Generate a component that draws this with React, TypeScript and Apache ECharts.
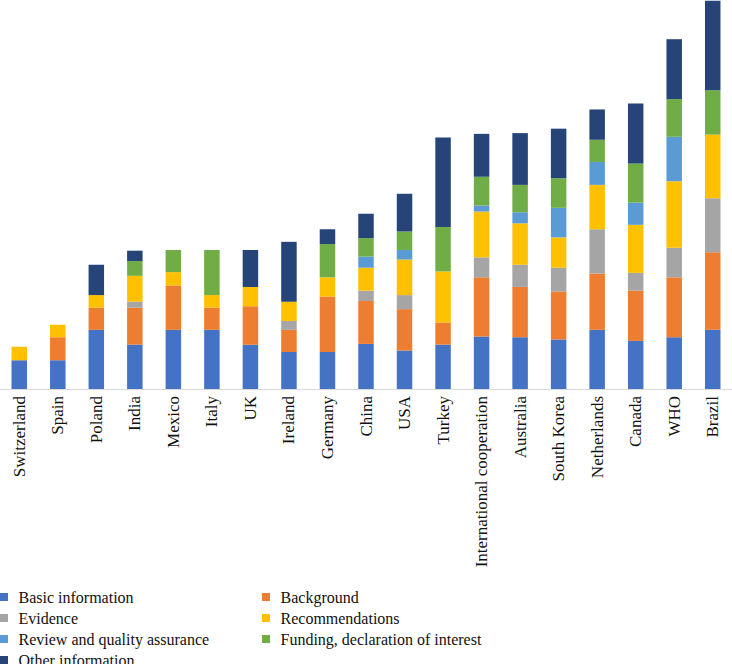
import React, { useEffect, useRef } from "react";
import * as echarts from "echarts";

const categories = [
  "Switzerland", "Spain", "Poland", "India", "Mexico", "Italy", "UK", "Ireland",
  "Germany", "China", "USA", "Turkey", "International cooperation", "Australia",
  "South Korea", "Netherlands", "Canada", "WHO", "Brazil",
];

const basicInformation = [3.9, 3.9, 8.0, 6.0, 8.0, 8.0, 6.0, 5.0, 5.0, 6.1, 5.2, 6.0, 7.1, 7.0, 6.7, 8.0, 6.5, 7.0, 8.0];
const background = [0, 3.1, 3.0, 5.0, 6.0, 3.0, 5.2, 3.0, 7.5, 5.8, 5.6, 3.0, 8.0, 6.8, 6.5, 7.6, 6.8, 8.1, 10.5];
const evidence = [0, 0, 0, 0.8, 0, 0, 0, 1.2, 0, 1.4, 1.9, 0, 2.7, 3.0, 3.2, 6.0, 2.4, 4.0, 7.3];
const recommendations = [1.8, 1.7, 1.7, 3.5, 1.8, 1.7, 2.6, 2.6, 2.6, 3.1, 4.8, 6.9, 6.2, 5.6, 4.1, 6.0, 6.5, 9.0, 8.6];
const reviewQuality = [0, 0, 0, 0, 0, 0, 0, 0, 0, 1.5, 1.3, 0, 0.8, 1.5, 4.0, 3.1, 3.0, 6.0, 0];
const funding = [0, 0, 0, 2.0, 3.0, 6.1, 0, 0, 4.5, 2.5, 2.5, 6.0, 3.9, 3.7, 4.0, 3.0, 5.3, 5.1, 6.0];
const otherInformation = [0, 0, 4.1, 1.4, 0, 0, 5.0, 8.1, 2.0, 3.3, 5.1, 12.1, 5.8, 7.0, 6.7, 4.1, 8.1, 8.1, 12.1];

const seriesDefs = [
  { name: "Basic information", data: basicInformation, color: "#4472C4" },
  { name: "Background", data: background, color: "#ED7D31" },
  { name: "Evidence", data: evidence, color: "#A5A5A5" },
  { name: "Recommendations", data: recommendations, color: "#FFC000" },
  { name: "Review and quality assurance", data: reviewQuality, color: "#5B9BD5" },
  { name: "Funding, declaration of interest", data: funding, color: "#70AD47" },
  { name: "Other information", data: otherInformation, color: "#264478" },
];

const FONT = "'Liberation Serif', 'DejaVu Serif', serif";

export default function App() {
  const ref = useRef<HTMLDivElement>(null);
  useEffect(() => {
    if (!ref.current) return;
    const chart = echarts.init(ref.current, null, { renderer: "svg" });
    const legendText = { fontFamily: FONT, fontSize: 16, color: "#111", lineHeight: 16, padding: [0, 0, 0, 5.5] };
    const legendBase = {
      orient: "vertical",
      top: 589,
      padding: 0,
      itemWidth: 8,
      itemHeight: 8,
      itemGap: 5,
      icon: "rect",
      textStyle: legendText,
    };
    chart.setOption({
      animation: false,
      grid: { left: 0, right: 0, top: 0, height: 389, containLabel: false },
      xAxis: {
        type: "category",
        data: categories,
        axisLine: { show: true, lineStyle: { color: "#D9D9D9", width: 1 } },
        axisTick: { show: false },
        axisLabel: {
          rotate: 90,
          interval: 0,
          margin: 7,
          fontFamily: FONT,
          fontSize: 17,
          color: "#111",
        },
      },
      yAxis: {
        type: "value",
        min: 0,
        max: 52.6,
        show: false,
        splitLine: { show: false },
      },
      legend: [
        {
          ...legendBase,
          left: 0,
          data: ["Basic information", "Evidence", "Review and quality assurance", "Other information"],
        },
        {
          ...legendBase,
          left: 262,
          data: ["Background", "Recommendations", "Funding, declaration of interest"],
        },
      ],
      series: seriesDefs.map((s) => ({
        name: s.name,
        type: "bar",
        stack: "total",
        barWidth: 15.5,
        data: s.data,
        itemStyle: { color: s.color },
      })),
    });
    return () => chart.dispose();
  }, []);
  return (
    <div
      ref={ref}
      style={{ position: "fixed", left: 0, top: 0, width: 732, height: 720, background: "#fff" }}
    />
  );
}
